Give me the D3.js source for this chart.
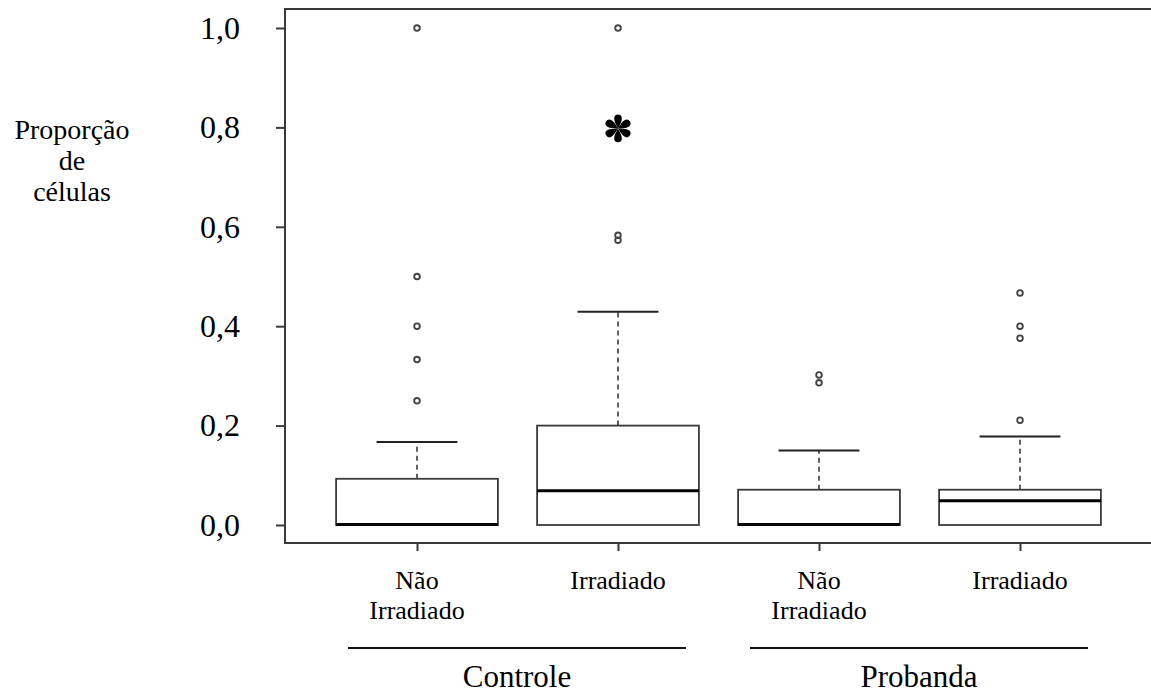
<!DOCTYPE html>
<html><head><meta charset="utf-8">
<script src="https://cdn.jsdelivr.net/npm/d3@7/dist/d3.min.js"></script>
<style>body{margin:0;background:#fff}svg{display:block}text{font-family:"Times New Roman","Liberation Serif",serif;fill:#000}</style>
</head><body><svg id="c" width="1151" height="695"></svg>
<script>
const categories = ["C_NI","C_I","P_NI","P_I"];
const categoryLabels = [["Não","Irradiado"],["Irradiado"],["Não","Irradiado"],["Irradiado"]];
const groups = ["Controle","Probanda"];
const groupMembers = [["C_NI","C_I"],["P_NI","P_I"]];
const q1 = [0, 0, 0, 0];
const medians = [0, 0.068, 0, 0.048];
const q3 = [0.093, 0.2, 0.071, 0.071];
const whiskerHigh = [0.167, 0.429, 0.150, 0.178];
const outliers = [[1.0, 0.5, 0.4, 0.333, 0.25],[1.0, 0.583, 0.573],[0.302, 0.286],[0.467, 0.4, 0.376, 0.211]];
const yTicks = [0, 0.2, 0.4, 0.6, 0.8, 1.0];
const yTickLabels = ["0,0","0,2","0,4","0,6","0,8","1,0"];
const yTitle = ["Proporção","de","células"];
const significance = [{cat:"C_I", value:0.8}];

const svg = d3.select("#c");
const y = d3.scaleLinear().domain([0,1]).range([525,28]);
const x = d3.scalePoint().domain(categories).range([417,1020]);
const bw = x.step()*0.805;
const frameL=285, frameT=9, frameB=543, frameR=1151;
const lineCol="#3a3a3a";

// frame (open on the right)
svg.append("path").attr("d",`M${frameR},${frameT}H${frameL}V${frameB}H${frameR}`)
  .attr("fill","none").attr("stroke",lineCol).attr("stroke-width",2);

// y axis ticks
const ya = svg.append("g").attr("transform",`translate(${frameL},0)`)
  .call(d3.axisLeft(y).tickValues(yTicks).tickFormat("").tickSize(9));
ya.select(".domain").remove();
ya.selectAll(".tick line").attr("stroke",lineCol).attr("stroke-width",2);
yTicks.forEach((v,i)=>{
  svg.append("text").attr("x",240).attr("y",y(v)).attr("dy","0.34em").attr("text-anchor","end")
    .style("font-size","32px").text(yTickLabels[i]);
});

// x axis ticks
const xa = svg.append("g").attr("transform",`translate(0,${frameB})`)
  .call(d3.axisBottom(x).tickSize(8).tickFormat(""));
xa.select(".domain").remove();
xa.selectAll(".tick line").attr("stroke",lineCol).attr("stroke-width",2);

// x labels
categories.forEach((c,i)=>{
  const t = svg.append("text").attr("text-anchor","middle").style("font-size","26px");
  categoryLabels[i].forEach((s,j)=>t.append("tspan").attr("x",x(c)).attr("y",589+j*30).text(s));
});

// group lines and labels
groups.forEach((g,i)=>{
  const m = groupMembers[i];
  const x0 = x(m[0])-69, x1 = x(m[m.length-1])+68;
  svg.append("line").attr("x1",x0).attr("x2",x1).attr("y1",648).attr("y2",648).attr("stroke","#111").attr("stroke-width",2);
  svg.append("text").attr("x",(x0+x1)/2).attr("y",687).attr("text-anchor","middle").style("font-size","31px").text(g);
});

// y title
const yt = svg.append("text").attr("text-anchor","middle").style("font-size","28px");
yTitle.forEach((s,j)=>yt.append("tspan").attr("x",72).attr("y",139+j*31).text(s));

// boxes
const g = svg.append("g");
categories.forEach((c,i)=>{
  const cx = x(c);
  g.append("line").attr("x1",cx).attr("x2",cx).attr("y1",y(q3[i])).attr("y2",y(whiskerHigh[i]))
    .attr("stroke",lineCol).attr("stroke-width",1.6).attr("stroke-dasharray","5,4");
  g.append("line").attr("x1",cx-bw/4).attr("x2",cx+bw/4).attr("y1",y(whiskerHigh[i])).attr("y2",y(whiskerHigh[i]))
    .attr("stroke","#222").attr("stroke-width",2);
  g.append("rect").attr("x",cx-bw/2).attr("width",bw).attr("y",y(q3[i])).attr("height",y(q1[i])-y(q3[i]))
    .attr("fill","#fff").attr("stroke",lineCol).attr("stroke-width",1.8);
  g.append("line").attr("x1",cx-bw/2).attr("x2",cx+bw/2).attr("y1",y(medians[i])-0.5).attr("y2",y(medians[i])-0.5)
    .attr("stroke","#000").attr("stroke-width",3);
  outliers[i].forEach(v=>{
    g.append("circle").attr("cx",cx).attr("cy",y(v)).attr("r",2.8)
      .attr("fill","none").attr("stroke","#444").attr("stroke-width",1.9);
  });
});

// significance asterisk (six teardrop petals)
const petal = "M0,0C-1.5,-3 -4,-7 -3.8,-10A3.8,3.8 0 0 1 3.8,-10C4,-7 1.5,-3 0,0Z";
significance.forEach(s=>{
  const a = svg.append("g").attr("transform",`translate(${x(s.cat)},${y(s.value)+1})`);
  d3.range(6).forEach(k=>a.append("path").attr("d",petal).attr("transform",`rotate(${k*60})`).attr("fill","#000"));
});
</script></body></html>
